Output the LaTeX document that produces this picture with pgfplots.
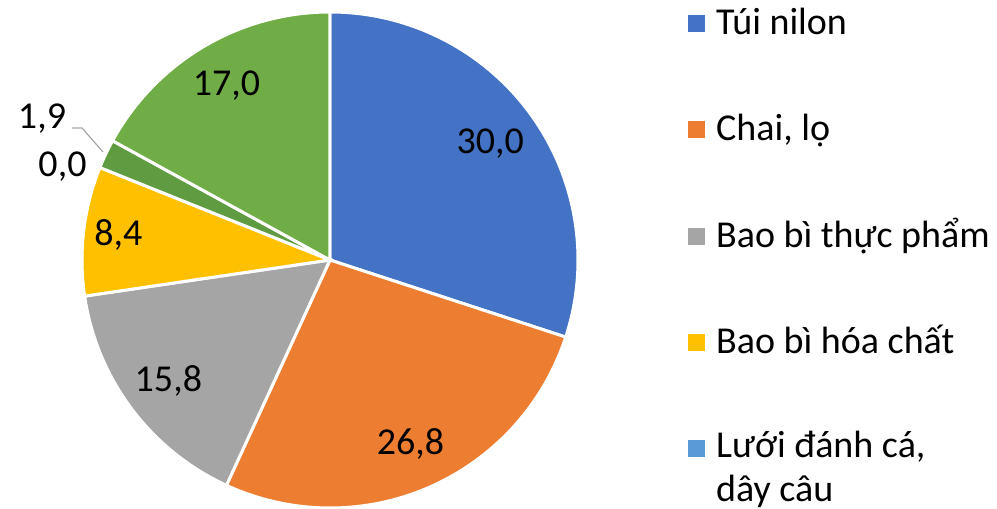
\documentclass[border=0pt]{standalone}
\usepackage{fontspec}
\setmainfont{Carlito}
\usepackage{pgfplots}
\usepackage{pgfplotstable}
\pgfplotsset{compat=1.18}
\pgfkeys{/pgf/number format/assume math mode=true}

\definecolor{c1}{HTML}{4472C4}
\definecolor{c2}{HTML}{ED7D31}
\definecolor{c3}{HTML}{A5A5A5}
\definecolor{c4}{HTML}{FFC000}
\definecolor{c5}{HTML}{5B9BD5}
\definecolor{c6}{HTML}{5F9B40}
\definecolor{c7}{HTML}{70AD47}

% value, colour, label radius (0 = outside label at lx,ly)
\pgfplotstableread{
value col lr lx ly
30.0 c1 198 0 0
26.8 c2 201 0 0
15.8 c3 202 0 0
8.4  c4 213 0 0
0.0  c5 0 62.5 342.5
1.9  c6 0 42 390
17.0 c7 203 0 0
}\piedata

\begin{document}
\begin{tikzpicture}
\useasboundingbox (0,0) rectangle (997bp,509bp);
\begin{axis}[
    scale only axis, width=997bp, height=509bp,
    xmin=0, xmax=997, ymin=0, ymax=509,
    hide axis, clip=false]
\pgfplotsextra{
  \fontsize{38bp}{45bp}\selectfont
  \gdef\total{0}
  \foreach \i in {0,...,6}{
    \pgfplotstablegetelem{\i}{value}\of\piedata
    \pgfmathsetmacro\tmp{\total+\pgfplotsretval}
    \xdef\total{\tmp}
  }
  % slices
  \gdef\cum{0}
  \foreach \i in {0,...,6}{
    \pgfplotstablegetelem{\i}{value}\of\piedata \let\val\pgfplotsretval
    \pgfplotstablegetelem{\i}{col}\of\piedata \let\pc\pgfplotsretval
    \pgfmathsetmacro\sa{90-\cum/\total*360}
    \pgfmathsetmacro\ea{90-(\cum+\val)/\total*360}
    \ifdim\val pt>0pt
      \fill[\pc, draw=white, line width=3bp] (axis cs:330,249) -- ++(\sa:248bp)
        arc[start angle=\sa, end angle=\ea, radius=248bp] -- cycle;
    \fi
    \pgfmathsetmacro\tmp{\cum+\val}\xdef\cum{\tmp}
  }
  % labels
  \gdef\cum{0}
  \foreach \i in {0,...,6}{
    \pgfplotstablegetelem{\i}{value}\of\piedata \let\val\pgfplotsretval
    \pgfplotstablegetelem{\i}{lr}\of\piedata \let\lr\pgfplotsretval
    \pgfplotstablegetelem{\i}{lx}\of\piedata \let\lx\pgfplotsretval
    \pgfplotstablegetelem{\i}{ly}\of\piedata \let\ly\pgfplotsretval
    \pgfmathsetmacro\ma{90-(\cum+\val/2)/\total*360}
    \ifdim\lr pt>0pt
      \path (axis cs:330,249) ++(\ma:\lr bp) node[inner sep=0]
        {\pgfmathprintnumber[fixed,fixed zerofill,precision=1,use comma]{\val}};
    \else
      \node[inner sep=0] at (axis cs:\lx,\ly)
        {\pgfmathprintnumber[fixed,fixed zerofill,precision=1,use comma]{\val}};
    \fi
    \pgfmathsetmacro\tmp{\cum+\val}\xdef\cum{\tmp}
  }
  % leader line for the small slice
  \draw[gray!70, line width=1.2bp] (axis cs:72,381) -- (axis cs:82,381) -- (axis cs:103,357);
  % legend
  \fill[c1] (axis cs:688,477) rectangle (axis cs:705,494);
  \fill[c2] (axis cs:688,370.5) rectangle (axis cs:705,387.5);
  \fill[c3] (axis cs:688,264) rectangle (axis cs:705,281);
  \fill[c4] (axis cs:688,158) rectangle (axis cs:705,175);
  \fill[c5] (axis cs:688,52) rectangle (axis cs:705,69);
  \node[anchor=base west, inner sep=0] at (axis cs:716,474) {Túi nilon};
  \node[anchor=base west, inner sep=0] at (axis cs:716,368) {Chai, lọ};
  \node[anchor=base west, inner sep=0] at (axis cs:716,261.5) {Bao bì thực phẩm};
  \node[anchor=base west, inner sep=0] at (axis cs:716,155) {Bao bì hóa chất};
  \node[anchor=base west, inner sep=0] at (axis cs:716,51) {Lưới đánh cá,};
  \node[anchor=base west, inner sep=0] at (axis cs:716,8) {dây câu};
}
\end{axis}
\end{tikzpicture}
\end{document}
